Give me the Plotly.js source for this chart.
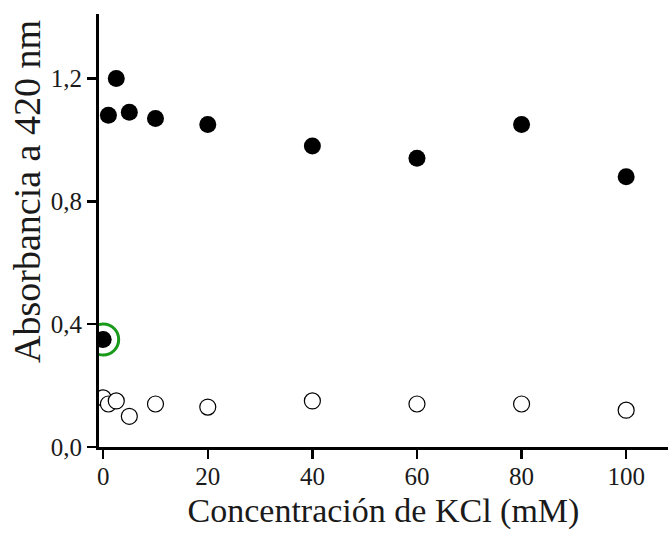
<!DOCTYPE html>
<html><head><meta charset="utf-8">
<script src="https://cdn.plot.ly/plotly-3.0.1.min.js"></script>
<style>body{margin:0}#c{width:670px;height:533px}</style></head>
<body><div id="c"></div>
<script>
const xFilled = [0, 1, 2.5, 5, 10, 20, 40, 60, 80, 100];
const yFilled = [0.35, 1.08, 1.20, 1.09, 1.07, 1.05, 0.98, 0.94, 1.05, 0.88];
const xOpen = [0, 1, 2.5, 5, 10, 20, 40, 60, 80, 100];
const yOpen = [0.16, 0.14, 0.15, 0.10, 0.14, 0.13, 0.15, 0.14, 0.14, 0.12];
const xHighlight = [0];
const yHighlight = [0.35];
const xTicks = [0, 20, 40, 60, 80, 100];
const yTicks = [0, 0.4, 0.8, 1.2];
const yTickText = ["0,0", "0,4", "0,8", "1,2"];

const F = "Liberation Serif, serif";
const TC = "#1a1a1a";
const traces = [
  {x: xOpen, y: yOpen, mode: "markers", type: "scatter",
   marker: {size: 16, color: "white", line: {color: "black", width: 1.2}}},
  {x: xFilled, y: yFilled, mode: "markers", type: "scatter",
   marker: {size: 17, color: "black"}},
  {x: xHighlight, y: yHighlight, mode: "markers", type: "scatter",
   marker: {size: 31, color: "rgba(0,0,0,0)", line: {color: "#1a9a1a", width: 3}}}
];
const layout = {
  width: 670, height: 533, showlegend: false,
  margin: {l: 99, r: 2, t: 14, b: 86},
  paper_bgcolor: "white", plot_bgcolor: "white",
  font: {family: F, color: TC, size: 25},
  xaxis: {range: [-0.8, 108], tickvals: xTicks, showgrid: false, zeroline: false,
    showline: true, linecolor: "black", linewidth: 3, ticks: "outside", ticklen: 9, tickwidth: 2.5,
    tickcolor: "black", tickfont: {size: 25, family: F, color: TC}, ticklabelstandoff: -4,
    title: {text: "Concentración de KCl (mM)", font: {size: 34, family: F, color: TC}, standoff: 10}},
  yaxis: {range: [0, 1.41], tickvals: yTicks, ticktext: yTickText, showgrid: false, zeroline: false,
    showline: true, linecolor: "black", linewidth: 3, ticks: "outside", ticklen: 9, tickwidth: 2.5,
    tickcolor: "black", tickfont: {size: 25, family: F, color: TC}},
  annotations: [{text: "Absorbancia a 420 nm", textangle: -90, xref: "paper", yref: "paper",
    x: -0.1265, y: 0.589, xanchor: "center", yanchor: "middle", showarrow: false,
    font: {size: 38, family: F, color: TC}}]
};
Plotly.newPlot("c", traces, layout, {displayModeBar: false, staticPlot: true});
</script></body></html>
